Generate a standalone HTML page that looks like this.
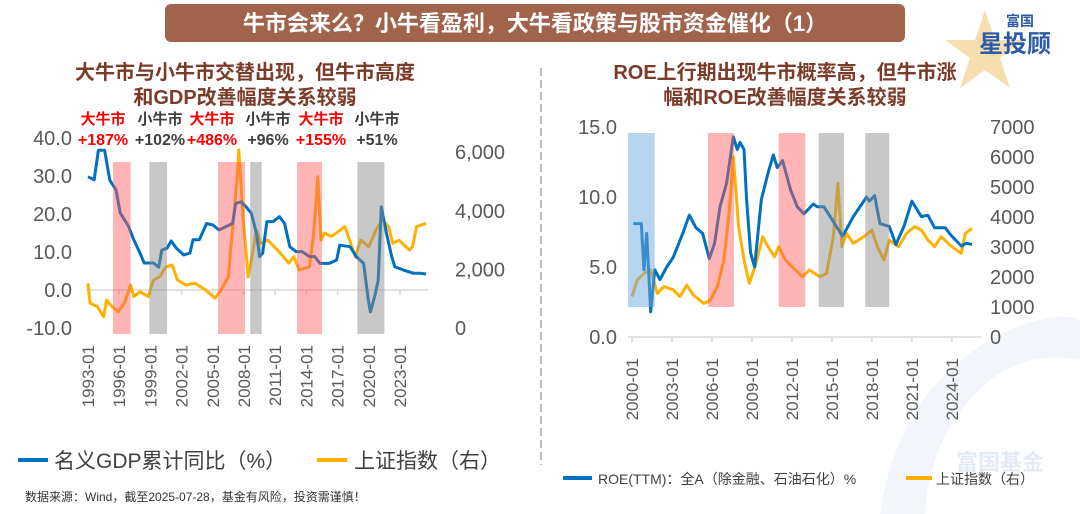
<!DOCTYPE html>
<html><head><meta charset="utf-8">
<style>
html,body{margin:0;padding:0;background:#fff;}
svg{display:block;font-family:"Liberation Sans","Noto Sans CJK SC",sans-serif;}
</style></head>
<body>
<svg id="chart" width="1080" height="514" viewBox="0 0 1080 514" xmlns="http://www.w3.org/2000/svg">
<rect x="0" y="0" width="1080" height="514" fill="#fff"/>
<g opacity="0.5">
 <path d="M880 514 Q900 380 1010 330 Q1060 310 1080 320 L1080 360 Q1030 350 990 380 Q930 430 925 514 Z" fill="#e6edf6"/>
 <text x="1000" y="470" font-size="22" font-weight="bold" fill="#c8d6e8" text-anchor="middle">富国基金</text>
</g>
<rect x="165" y="4" width="740" height="38" rx="6" fill="#a1634c"/>
<text x="535" y="31" font-size="22" font-weight="bold" fill="#fff" text-anchor="middle">牛市会来么？小牛看盈利，大牛看政策与股市资金催化（1）</text>
<g>
 <polygon points="985,10 995,40 1025,40 1000,58 1010,88 985,70 960,88 970,58 945,40 975,40" fill="#f0c878" opacity="0.6"/>
 <text x="1020" y="26" font-size="14" font-weight="bold" fill="#2a5aa8" text-anchor="middle">富国</text>
 <text x="1015" y="52" font-size="24" font-weight="bold" fill="#2a5aa8" text-anchor="middle">星投顾</text>
</g>
<text x="245" y="79" font-size="20" font-weight="bold" fill="#7a3b28" text-anchor="middle">大牛市与小牛市交替出现，但牛市高度</text>
<text x="245" y="104" font-size="20" font-weight="bold" fill="#7a3b28" text-anchor="middle">和GDP改善幅度关系较弱</text>
<text x="785" y="79" font-size="20" font-weight="bold" fill="#7a3b28" text-anchor="middle">ROE上行期出现牛市概率高，但牛市涨</text>
<text x="785" y="104" font-size="20" font-weight="bold" fill="#7a3b28" text-anchor="middle">幅和ROE改善幅度关系较弱</text>
<line x1="541" y1="68" x2="541" y2="465" stroke="#bbb" stroke-width="2" stroke-dasharray="8,4"/>
<g id="left"></g>
<g id="right"></g>
<g>
 <line x1="18" y1="460" x2="48" y2="460" stroke="#0070c0" stroke-width="4"/>
 <text x="54" y="468" font-size="21" fill="#404040">名义GDP累计同比（%）</text>
 <line x1="317" y1="460" x2="347" y2="460" stroke="#ffb000" stroke-width="4"/>
 <text x="354" y="468" font-size="21" fill="#404040">上证指数（右）</text>
</g>
<g>
 <line x1="563" y1="478" x2="592" y2="478" stroke="#0070c0" stroke-width="4"/>
 <text x="598" y="484" font-size="14" fill="#404040">ROE(TTM)：全A（除金融、石油石化）%</text>
 <line x1="906" y1="478" x2="932" y2="478" stroke="#ffb000" stroke-width="4"/>
 <text x="936" y="484" font-size="14" fill="#404040">上证指数（右）</text>
</g>
<text x="25" y="501" font-size="12" fill="#333">数据来源：Wind，截至2025-07-28，基金有风险，投资需谨慎！</text>
</svg>
<script>
// ===== Left chart data =====
const gdpYears=[1993.0,1993.6,1994.0,1994.6,1995.1,1995.7,1996.1,1996.9,1997.4,1998.0,1998.4,1999.3,1999.8,2000.1,2000.6,2001.0,2001.5,2002.2,2002.8,2003.1,2003.7,2004.4,2005.0,2005.6,2006.3,2006.9,2007.2,2007.7,2008.2,2008.7,2009.2,2009.5,2009.8,2010.2,2010.8,2011.4,2011.9,2012.4,2013.0,2013.6,2014.3,2014.8,2015.3,2016.2,2016.9,2017.2,2018.2,2018.8,2019.5,2019.95,2020.15,2020.6,2020.9,2021.2,2021.7,2022.2,2022.5,2023.3,2024.3,2025.0,2025.5];
const gdpValues=[29.8,29,36.8,36.8,28.9,26.3,20.3,16.7,13.2,9.7,7.1,7.1,6,10.5,11,12.9,11,9.2,9.7,13.2,13.2,17.5,17.1,15.8,16.7,17.5,22.8,23.2,21.9,20.2,14.9,8.8,9.7,18,18,19.3,17.5,11.4,10.1,10.1,8.8,8.8,7,7,7.9,11.8,11.4,8.8,7,-2.6,-5.7,-1.4,2.6,21.9,14.9,8.8,6.1,5.3,4.4,4.4,4.2];
const shLYears=[1993.0,1993.2,1993.9,1994.5,1994.8,1995.3,1995.9,1996.5,1997.1,1997.4,1998.0,1998.8,1999.3,1999.9,2000.5,2001.1,2001.6,2002.4,2003.3,2004.3,2005.2,2005.8,2006.5,2006.8,2007.3,2007.5,2007.9,2008.4,2008.7,2009.2,2009.6,2010.3,2010.9,2011.5,2012.3,2012.8,2013.3,2014.3,2014.7,2015.1,2015.4,2015.75,2016.4,2017.7,2018.7,2019.2,2020.0,2020.7,2021.3,2021.9,2022.3,2022.9,2023.9,2024.2,2024.6,2025.5];
const shLValues=[1525,850,730,385,955,730,555,850,1467,1070,1240,1070,1640,1750,2090,2150,1640,1467,1525,1300,1013,1300,1750,3000,4950,6075,3800,1750,2320,3345,2890,3000,2775,2550,2210,2435,1980,2090,3240,5160,3000,3240,3120,3460,2435,3000,2775,3345,3690,3460,2890,3000,2660,2775,3460,3570];
const leftBandStart=[1995.4,1998.9,2005.5,2008.6,2013.1,2018.9];
const leftBandEnd=[1997.1,2000.6,2008.1,2009.7,2015.5,2021.5];
const leftBandType=['bull','small','bull','small','bull','small'];
const leftTicksL=[40,30,20,10,0,-10];
const leftTicksR=[6000,4000,2000,0];
const leftTickLabelsR=['6,000','4,000','2,000','0'];
const leftXTicks=[1993,1996,1999,2002,2005,2008,2011,2014,2017,2020,2023];
const annoTypes=['大牛市','小牛市','大牛市','小牛市','大牛市','小牛市'];
const annoPcts=['+187%','+102%','+486%','+96%','+155%','+51%'];
// ===== Right chart data =====
const roeYears=[2000.1,2000.7,2000.9,2001.1,2001.4,2001.7,2002.1,2002.6,2003.1,2003.8,2004.3,2004.8,2005.3,2005.8,2006.2,2006.6,2007.1,2007.6,2007.9,2008.1,2008.4,2008.6,2008.9,2009.2,2009.7,2010.2,2010.6,2010.9,2011.3,2011.9,2012.4,2012.9,2013.6,2013.9,2014.4,2015.2,2015.8,2016.6,2017.6,2017.8,2018.2,2018.6,2019.3,2019.8,2020.4,2021.0,2021.7,2022.2,2022.7,2023.5,2023.9,2024.7,2025.1,2025.5];
const roeValues=[8.1,8.1,4.8,7.4,1.8,4.8,4.1,5.0,5.7,7.4,8.7,7.8,7.4,5.6,6.7,9.3,11,14.3,13.4,13.9,13.4,9.8,6.0,5.0,9.8,11.7,13,12.1,12.6,10.5,9.3,8.8,9.5,9.3,9.3,8.1,7.2,8.6,10.0,9.7,10.1,8.1,7.9,6.6,7.9,9.7,8.6,8.7,7.8,7.8,7.3,6.5,6.7,6.6];
const shRYears=[2000.0,2000.4,2000.9,2001.4,2001.9,2002.4,2003.1,2003.6,2004.1,2004.6,2005.4,2005.9,2006.4,2006.9,2007.3,2007.6,2008.0,2008.4,2008.8,2009.3,2009.8,2010.2,2010.7,2011.0,2011.5,2012.0,2012.8,2013.3,2014.1,2014.6,2015.1,2015.45,2015.75,2016.1,2016.6,2017.4,2018.0,2018.4,2018.9,2019.3,2020.0,2020.6,2021.2,2021.7,2022.2,2022.7,2023.2,2024.0,2024.7,2025.0,2025.5];
const shRValues=[1345,1900,2120,2230,1455,1680,1570,1345,1730,1400,1120,1230,1680,2570,4230,6010,3680,2570,1790,2450,3345,3010,2680,3010,2570,2345,2010,2230,2010,2120,3345,5120,3010,3455,3120,3345,3565,3010,2570,3230,3010,3455,3680,3565,3230,3010,3345,3010,2790,3455,3620];
const rightBandStart=[1999.7,2005.7,2011.0,2014.0,2017.5];
const rightBandEnd=[2001.7,2007.65,2013.0,2015.9,2019.3];
const rightBandType=['roe','bull','bull','small','small'];
const rightTicksL=[15,10,5,0];
const rightTicksR=[7000,6000,5000,4000,3000,2000,1000,0];
const rightXTicks=[2000,2003,2006,2009,2012,2015,2018,2021,2024];

const NS='http://www.w3.org/2000/svg';
function mk(parent,tag,attrs){const e=document.createElementNS(NS,tag);for(const k in attrs)e.setAttribute(k,attrs[k]);parent.appendChild(e);return e;}
const bandFill={bull:'rgba(255,90,90,0.45)',small:'rgba(140,140,140,0.48)',roe:'rgba(110,170,220,0.5)'};

function drawChart(g,cfg){
  const xs=y=>cfg.x0+(y-cfg.yr0)*cfg.pxYr;
  const yl=v=>cfg.yL0+(v-cfg.vL0)*cfg.pxL;
  const yr=v=>cfg.yR0-v*cfg.pxR;
  // axis line
  const ax=mk(g,'line',{x1:cfg.axX1,y1:cfg.axisY,x2:cfg.axX2,y2:cfg.axisY,stroke:'#d9d9d9','stroke-width':1.5});
  
  
  cfg.xTicks.forEach(t=>{
    const x=xs(t);
    const tk=mk(g,'line',{x1:x,y1:cfg.axisY,x2:x,y2:cfg.axisY+5,stroke:'#d9d9d9','stroke-width':1.5});
    
    
    const tx=mk(g,'text',{x:0,y:0,'font-size':17,fill:'#595959','text-anchor':'end',transform:`translate(${x+6},${cfg.labelTop}) rotate(-90)`});
    tx.textContent=t+'-01';
    
    
  });
  cfg.ticksL.forEach(v=>{
    const t=mk(g,'text',{x:cfg.lblLX,y:yl(v)+7,'font-size':20,fill:'#595959','text-anchor':'end'});
    t.textContent=v.toFixed(1);
    
    
  });
  cfg.ticksR.forEach((v,i)=>{
    const t=mk(g,'text',{x:cfg.lblRX,y:yr(v)+7,'font-size':20,fill:'#595959','text-anchor':'start'});
    t.textContent=cfg.ticksRLabels?cfg.ticksRLabels[i]:String(v);
    
    
  });
  const pts=(X,V,f)=>X.map((x,i)=>xs(x).toFixed(1)+','+f(V[i]).toFixed(1)).join(' ');
  const l2=mk(g,'polyline',{points:pts(cfg.sYears,cfg.sValues,yr),fill:'none',stroke:'#ffb000','stroke-width':3,'stroke-linejoin':'round'});
  
  
  const l1=mk(g,'polyline',{points:pts(cfg.aYears,cfg.aValues,yl),fill:'none',stroke:'#0070c0','stroke-width':3,'stroke-linejoin':'round'});
  
  
  cfg.bStart.forEach((s,i)=>{
    const type=cfg.bType[i];
    const b=mk(g,'rect',{x:xs(s),y:cfg.bandTop,width:xs(cfg.bEnd[i])-xs(s),height:cfg.bandBot-cfg.bandTop,fill:bandFill[type]});
    
    
  });
  return xs;
}

const xsL=drawChart(document.getElementById('left'),{x0:88,yr0:1993,pxYr:10.4,yL0:290,vL0:0,pxL:-3.8,yR0:328,pxR:0.0293,
  axisY:290,axX1:86,axX2:428,labelTop:345,lblLX:72,lblRX:455,xTicks:leftXTicks,ticksL:leftTicksL,ticksR:leftTicksR,ticksRLabels:leftTickLabelsR,
  aYears:gdpYears,aValues:gdpValues,aName:'gdp-line',sYears:shLYears,sValues:shLValues,bStart:leftBandStart,bEnd:leftBandEnd,bType:leftBandType,bandTop:162,bandBot:334});
const gL=document.getElementById('left');
const annoX=[103,160,212,268,321,377];
annoTypes.forEach((t,i)=>{
  const red=t==='大牛市';
  const a=mk(gL,'text',{x:annoX[i],y:124,'font-size':15,'font-weight':'bold',fill:red?'#ff0000':'#404040','text-anchor':'middle'});
  a.textContent=t;
  
  
  const p=mk(gL,'text',{x:annoX[i],y:145,'font-size':16,'font-weight':'bold',fill:red?'#ff0000':'#404040','text-anchor':'middle'});
  p.textContent=annoPcts[i];
  
  
});
drawChart(document.getElementById('right'),{x0:632,yr0:2000,pxYr:13.33,yL0:337,vL0:0,pxL:-14,yR0:337,pxR:0.03,
  axisY:337,axX1:628,axX2:982,labelTop:358,lblLX:617,lblRX:990,xTicks:rightXTicks,ticksL:rightTicksL,ticksR:rightTicksR,
  aYears:roeYears,aValues:roeValues,aName:'roe-line',sYears:shRYears,sValues:shRValues,bStart:rightBandStart,bEnd:rightBandEnd,bType:rightBandType,bandTop:133,bandBot:307});
</script>
</body></html>
